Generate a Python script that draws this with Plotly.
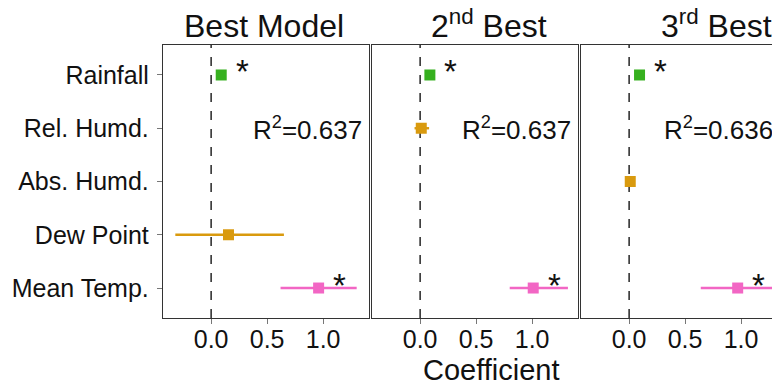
import plotly.graph_objects as go

# ---------------- data ----------------
categories = ["Rainfall", "Rel. Humd.", "Abs. Humd.", "Dew Point", "Mean Temp."]
var_colors = ["#36b01f", "#d99a0e", "#d99a0e", "#d99a0e", "#f266c4"]

model_titles = ["Best Model", "2<sup>nd</sup> Best", "3<sup>rd</sup> Best"]
r2_values = [0.637, 0.637, 0.636]

best_coef = [0.09, None, None, 0.155, 0.96]
best_lo = [0.075, None, None, -0.32, 0.62]
best_hi = [0.105, None, None, 0.65, 1.30]
best_sig = [True, False, False, False, True]

second_coef = [0.087, 0.01, None, None, 1.01]
second_lo = [0.072, -0.05, None, None, 0.80]
second_hi = [0.102, 0.08, None, None, 1.32]
second_sig = [True, False, False, False, True]

third_coef = [0.093, None, 0.01, None, 0.97]
third_lo = [0.078, None, -0.005, None, 0.64]
third_hi = [0.108, None, 0.025, None, 1.31]
third_sig = [True, False, False, False, True]

x_ticks = [0.0, 0.5, 1.0]
x_tick_labels = ["0.0", "0.5", "1.0"]

models = [
    (best_coef, best_lo, best_hi, best_sig),
    (second_coef, second_lo, second_hi, second_sig),
    (third_coef, third_lo, third_hi, third_sig),
]

# ---------------- figure ----------------
FONT = "Liberation Sans, Arial, sans-serif"
OFF = 8  # page body margin
W, H = 780 - OFF, 385 - OFF
ML, MR, MT, MB = 163 - OFF, 0, 45 - OFF, 67
plot_w = W - ML - MR

domains = [
    [0.0, 206 / plot_w],
    [209 / plot_w, 415 / plot_w],
    [418 / plot_w, 1.0],
]
x_ranges = [[-0.43, 1.41], [-0.43, 1.41], [-0.43, 1.348]]
y_range = [4.563, -0.563]

fig = go.Figure()

for i, (coef, lo, hi, sig) in enumerate(models):
    xa = "x" if i == 0 else f"x{i+1}"
    ya = "y" if i == 0 else f"y{i+1}"
    fig.add_shape(type="line", xref=xa, yref=f"{ya} domain", x0=0, x1=0, y0=0, y1=1,
                  line=dict(color="#333333", width=1.6, dash="dash"), layer="below")
    for j, cat in enumerate(categories):
        if coef[j] is None:
            continue
        fig.add_trace(go.Scatter(
            x=[coef[j]], y=[cat], xaxis=xa, yaxis=ya, mode="markers",
            marker=dict(symbol="square", size=11, color=var_colors[j]),
            error_x=dict(type="data", symmetric=False,
                         array=[hi[j] - coef[j]], arrayminus=[coef[j] - lo[j]],
                         color=var_colors[j], thickness=2.4, width=0),
            showlegend=False, hoverinfo="x+y"))
        if sig[j]:
            fig.add_annotation(x=coef[j], y=cat, xref=xa, yref=ya, text="*",
                               showarrow=False, xanchor="center", yanchor="middle",
                               xshift=21, yshift=3,
                               font=dict(family=FONT, size=33, color="#111111"))
    fig.add_annotation(x=domains[i][1], y=categories[1], xref="paper", yref=ya,
                       text=f"R<sup>2</sup>={r2_values[i]:.3f}", showarrow=False,
                       xanchor="right", yanchor="middle", xshift=-5,
                       font=dict(family=FONT, size=26, color="#111111"))

axis_common = dict(showline=True, linecolor="#333333", linewidth=1.4,
                   showgrid=False, zeroline=False, ticks="outside", ticklen=5,
                   tickcolor="#777777", tickwidth=1)

layout = dict(
    width=W, height=H, margin=dict(l=ML, r=MR, t=MT, b=MB),
    paper_bgcolor="white", plot_bgcolor="white",
    font=dict(family=FONT, color="#111111"),
)
for i in range(3):
    xk = "xaxis" if i == 0 else f"xaxis{i+1}"
    yk = "yaxis" if i == 0 else f"yaxis{i+1}"
    ya_anchor = "y" if i == 0 else f"y{i+1}"
    xa_anchor = "x" if i == 0 else f"x{i+1}"
    layout[xk] = dict(axis_common, domain=domains[i], range=x_ranges[i], anchor=ya_anchor,
                      mirror=True, tickvals=x_ticks, ticktext=x_tick_labels,
                      ticklabelstandoff=-6,
                      tickfont=dict(family=FONT, size=25, color="#111111"))
    layout[yk] = dict(axis_common, domain=[0, 1], anchor=xa_anchor, type="category",
                      categoryarray=categories, range=y_range,
                      mirror=(i < 2), showticklabels=(i == 0),
                      ticks="outside" if i == 0 else "",
                      ticklabelstandoff=3,
                      tickfont=dict(family=FONT, size=25, color="#111111"))

fig.update_layout(**layout)

title_x = [264, 489, 716]
for i, t in enumerate(model_titles):
    fig.add_annotation(x=(title_x[i] - 163) / plot_w, y=1, xref="paper", yref="paper",
                       text=t, showarrow=False, xanchor="center", yanchor="bottom",
                       yshift=-1, font=dict(family=FONT, size=32, color="#111111"))

fig.add_annotation(x=(491 - 163) / plot_w, y=0, xref="paper", yref="paper",
                   text="Coefficient", showarrow=False, xanchor="center", yanchor="top",
                   yshift=-34, font=dict(family=FONT, size=29, color="#111111"))

fig.write_html("out.html")
